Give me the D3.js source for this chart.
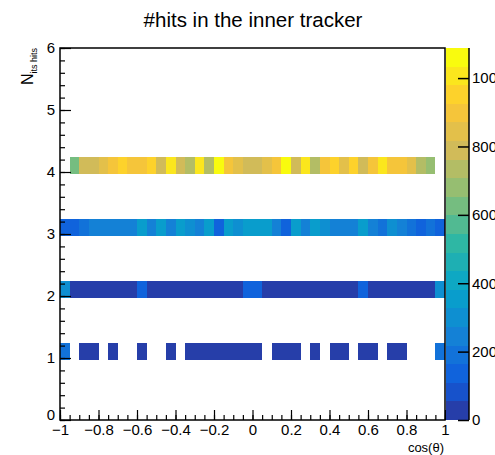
<!DOCTYPE html>
<html>
<head>
<meta charset="utf-8">
<script src="https://cdn.jsdelivr.net/npm/d3@7"></script>
<style>
  body { margin: 0; background: #fff; }
  svg { display: block; }
  text { font-family: 'Liberation Sans', Arial, sans-serif; fill: #000; }
</style>
</head>
<body>
<script>
'use strict';

// histogram binning: 40 bins in cos(theta) from -1 to 1, one row per hit count
var nBinsX = 40;
var xRange = [-1, 1];
var yRange = [0, 6];
var rowLevels = [1, 2, 3, 4];
var rowLow = -0.03;
var rowHeight = 0.27;

// bin contents per row (null = empty bin)
var hits1 = [210, null, 30, 32, null, 25, null, null, 20, null,
             null, 22, null, 35, 38, 36, 40, 37, 35, 33,
             30, null, 30, 32, 28, null, 20, null, 28, 30,
             null, 30, 32, null, 28, 26, null, null, null, 200];
var hits2 = [300, 40, 42, 38, 44, 40, 41, 45, 150, 42,
             40, 44, 43, 39, 41, 45, 42, 40, 44, 150,
             140, 42, 45, 40, 43, 41, 44, 42, 40, 45,
             43, 140, 42, 41, 44, 40, 42, 43, 41, 310];
var hits3 = [120, 160, 180, 220, 250, 230, 230, 240, 350, 220,
             330, 230, 340, 290, 220, 340, 160, 340, 320, 330,
             370, 340, 230, 150, 330, 220, 380, 280, 270, 270,
             220, 360, 220, 170, 320, 260, 200, 150, 170, 110];
var hits4 = [null, 625, 790, 790, 845, 900, 950, 900, 900, 950,
             790, 1005, 790, 735, 1005, 735, 1075, 900, 845, 790,
             790, 845, 900, 1088, 790, 1005, 735, 900, 950, 845,
             950, 790, 900, 1005, 900, 900, 845, 735, 680, null];
var rows = [hits1, hits2, hits3, hits4];

var xTicks = [-1, -0.8, -0.6, -0.4, -0.2, 0, 0.2, 0.4, 0.6, 0.8, 1];
var yTicks = [0, 1, 2, 3, 4, 5, 6];
var zTicks = [0, 200, 400, 600, 800, 1000];

// ROOT kBird palette stops
var birdStops = ['#352a87', '#0f5cdd', '#1481d6', '#06a4ca', '#2eb7a4', '#87bf77', '#d1bb59', '#fec832', '#f9fb0e'];
var nContours = 20;

var W = 495, H = 455;
var frame = {left: 60, right: 445, top: 48, bottom: 420};
var palX = [446, 469];

var svg = d3.select('body').append('svg').attr('width', W).attr('height', H);

var x = d3.scaleLinear().domain(xRange).range([frame.left, frame.right]);
var y = d3.scaleLinear().domain(yRange).range([frame.bottom, frame.top]);

var zMax = d3.max(rows, function(r) { return d3.max(r); });
var z = d3.scaleLinear().domain([0, zMax]).range([frame.bottom, frame.top]);

var bird = d3.scaleLinear()
  .domain(birdStops.map(function(d, i) { return i / (birdStops.length - 1); }))
  .range(birdStops)
  .interpolate(d3.interpolateRgb);

function levelOf(v) {
  return Math.min(nContours - 1, Math.floor(v / zMax * nContours));
}
function levelColor(l) {
  return bird((l + 0.99) / nContours);
}

var binW = (xRange[1] - xRange[0]) / nBinsX;

// cells
var cells = [];
rows.forEach(function(r, ri) {
  r.forEach(function(v, i) {
    if (v !== null) cells.push({x0: xRange[0] + i * binW, y0: rowLevels[ri] + rowLow, v: v});
  });
});

svg.append('g').selectAll('rect').data(cells).enter().append('rect')
  .attr('x', function(d) { return x(d.x0); })
  .attr('width', function(d) { return x(d.x0 + binW) - x(d.x0); })
  .attr('y', function(d) { return y(d.y0 + rowHeight); })
  .attr('height', function(d) { return y(d.y0) - y(d.y0 + rowHeight); })
  .attr('fill', function(d) { return levelColor(levelOf(d.v)); })
  .attr('shape-rendering', 'crispEdges');

// axes
var xMinor = d3.range(41).map(function(i) { return -1 + i * 0.05; });
var yMinor = d3.range(31).map(function(i) { return i * 0.2; });

svg.append('g').attr('transform', 'translate(0,' + frame.bottom + ')')
  .call(d3.axisBottom(x).tickValues(xMinor).tickSize(-5).tickFormat(''))
  .call(function(g) { g.select('.domain').remove(); });
svg.append('g').attr('class', 'xaxis').attr('transform', 'translate(0,' + frame.bottom + ')')
  .call(d3.axisBottom(x).tickValues(xTicks).tickSize(-10).tickPadding(4)
    .tickFormat(function(d) { return d3.format('')(Math.round(d * 10) / 10); }))
  .call(function(g) { g.select('.domain').remove(); });

svg.append('g').attr('transform', 'translate(' + frame.left + ',0)')
  .call(d3.axisLeft(y).tickValues(yMinor).tickSize(-5).tickFormat(''))
  .call(function(g) { g.select('.domain').remove(); });
svg.append('g').attr('class', 'yaxis').attr('transform', 'translate(' + frame.left + ',0)')
  .call(d3.axisLeft(y).tickValues(yTicks).tickSize(-11).tickPadding(5).tickFormat(d3.format('d')))
  .call(function(g) { g.select('.domain').remove(); });

svg.selectAll('.tick line').attr('stroke', '#000').attr('stroke-width', 1.2);
svg.selectAll('.xaxis text, .yaxis text').style('font-size', '15px');
// "0" on y sits just above the x labels, as in ROOT
svg.selectAll('.yaxis .tick text').filter(function(d) { return d === 0; }).attr('dy', '-0.05em');

// frame
svg.append('rect')
  .attr('x', frame.left).attr('y', frame.top)
  .attr('width', frame.right - frame.left).attr('height', frame.bottom - frame.top)
  .attr('fill', 'none').attr('stroke', '#000').attr('stroke-width', 1.5);

// palette
var levels = d3.range(nContours);
svg.append('g').selectAll('rect').data(levels).enter().append('rect')
  .attr('x', palX[0]).attr('width', palX[1] - palX[0])
  .attr('y', function(l) { return z((l + 1) * zMax / nContours); })
  .attr('height', function(l) { return z(l * zMax / nContours) - z((l + 1) * zMax / nContours); })
  .attr('fill', levelColor)
  .attr('shape-rendering', 'crispEdges');

svg.append('g').attr('class', 'zaxis').attr('transform', 'translate(' + palX[1] + ',0)')
  .call(d3.axisRight(z).tickValues(zTicks).tickSize(-11).tickPadding(3).tickFormat(d3.format('d')))
  .call(function(g) {
    g.select('.domain').attr('d', 'M0,' + frame.top + 'V' + frame.bottom).attr('stroke', '#000').attr('stroke-width', 1.5);
    g.selectAll('.tick line').attr('stroke', '#000').attr('stroke-width', 1.5);
    g.selectAll('text').style('font-size', '15px');
  });

// titles
svg.append('text')
  .attr('x', 253).attr('y', 27)
  .attr('text-anchor', 'middle')
  .style('font-size', '20.5px')
  .text('#hits in the inner tracker');

svg.append('text')
  .attr('x', frame.right - 1).attr('y', 452)
  .attr('text-anchor', 'end')
  .style('font-size', '13px')
  .text('cos(θ)');

var yTitle = svg.append('text')
  .attr('transform', 'translate(33,' + frame.top + ') rotate(-90)')
  .attr('text-anchor', 'end')
  .style('font-size', '16px');
yTitle.append('tspan').text('N');
yTitle.append('tspan').attr('dy', 4).style('font-size', '9px').text('its hits');
</script>
</body>
</html>
